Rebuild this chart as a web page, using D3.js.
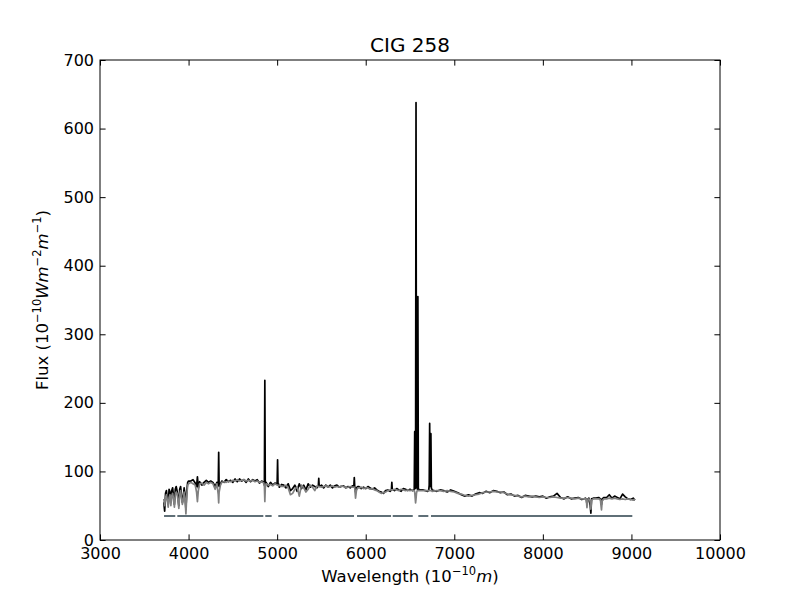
<!DOCTYPE html>
<html lang="en">
    <head>
        <meta charset="UTF-8" />
        <title>CIG 258</title>
        <style>
            html,
            body {
                margin: 0;
                background: white;
            }
            text {
                font-family: "DejaVu Sans", sans-serif;
                fill: black;
            }
        </style>
    </head>
    <body>
        <div id="chart"></div>
        <script src="https://d3js.org/d3.v7.min.js"></script>
        <script>
            // wavelength (Angstrom), observed flux (black), model flux (gray)
            const wave = [
                3720, 3730, 3740, 3750, 3760, 3770, 3780, 3790, 3800, 3810, 3820, 3830, 3840, 3850, 3860, 3870, 3880, 3890, 3900, 3910, 3920, 3930, 3940, 3950, 3960, 3970, 3980, 3990, 4000,
                4025, 4050, 4075, 4090, 4100, 4110, 4125, 4150, 4175, 4200, 4225, 4250,
                4275, 4300, 4320, 4335, 4340, 4345, 4360, 4375, 4400, 4425, 4450,
                4475, 4500, 4525, 4550, 4575, 4600, 4625, 4650, 4675, 4700, 4725, 4750, 4775, 4800, 4825, 4850,
                4856, 4861, 4866, 4875, 4900, 4925, 4950, 4975, 5000, 5005, 5010, 5015, 5025, 5050,
                5075, 5100, 5125, 5150, 5175, 5200, 5225, 5250, 5275, 5300, 5325, 5350, 5375, 5400, 5425, 5450,
                5465, 5470, 5475, 5500,
                5525, 5550, 5575, 5600, 5625, 5650, 5675, 5700, 5725, 5750, 5775, 5800, 5825, 5850,
                5866, 5871, 5876, 5885, 5895, 5910,
                5925, 5950, 5975, 6000, 6025, 6050, 6075, 6100, 6125, 6150, 6175, 6200, 6225, 6250, 6275,
                6290, 6295, 6300, 6325, 6350, 6375, 6400, 6425, 6450, 6475, 6500, 6525,
                6540, 6548, 6553, 6558, 6563, 6568, 6573, 6578, 6584, 6589, 6594, 6600,
                6650, 6700, 6712, 6717, 6722, 6727, 6731, 6736, 6741, 6750, 6800,
                6840, 6880, 6920, 6960, 7000, 7040, 7080, 7120, 7160, 7200, 7240, 7280, 7320, 7360, 7400, 7440, 7480, 7520, 7560, 7600, 7640, 7680, 7720, 7760, 7800, 7840, 7880, 7920, 7960, 8000, 8040, 8080, 8120, 8160, 8200, 8240, 8280, 8320, 8360, 8400, 8440, 8480,
                8490, 8498, 8506, 8520, 8535, 8542, 8550, 8570, 8600, 8630, 8650, 8655, 8662, 8670, 8690,
                8720, 8750, 8780, 8810, 8840, 8870, 8900, 8930, 8960, 8990, 9020, 9040
            ];
            const obsFlux = [
                55, 42, 68, 72, 60, 52, 74, 70, 55, 72, 76, 64, 52, 74, 78, 72, 62, 50, 74, 78, 66, 55, 62, 76, 66, 45, 72, 84, 86,
                86, 88, 83, 78, 92, 76, 85, 80, 84, 87, 84, 86,
                84, 78, 84, 80, 128, 78, 82, 86, 84, 88, 85,
                87, 84, 89, 85, 89, 86, 88, 84, 89, 85, 88, 86, 88, 83, 86, 84,
                80, 233, 80, 84, 78, 84, 80, 83, 82, 117, 80, 82, 77, 81,
                80, 76, 82, 72, 75, 80, 71, 82, 75, 80, 73, 82, 77, 80, 78, 76,
                79, 90, 78, 80,
                76, 80, 77, 80, 76, 79, 80, 77, 78, 79, 76, 78, 76, 79,
                78, 91, 78, 70, 76, 78,
                78, 75, 77, 75, 78, 76, 74, 76, 73, 71, 70, 68, 72, 73, 71,
                73, 84, 74, 72, 75, 73, 71, 75, 74, 72, 74, 72,
                73, 74, 158, 75, 80, 638, 82, 76, 74, 355, 76, 73,
                73, 71, 73, 80, 170, 78, 82, 155, 76, 73, 71,
                73, 72, 70, 73, 71, 69, 66, 64, 66, 64, 67, 69, 68, 71, 69, 72, 71, 69, 70, 66, 67, 64, 65, 62, 65, 64, 63, 64, 63, 64, 61, 63, 64, 68, 62, 60, 63, 60, 61, 62, 59, 61,
                60, 52, 59, 61, 50, 39, 60, 61, 61, 62, 60, 56, 52, 60, 62,
                62, 66, 61, 64, 62, 60, 67, 63, 60, 59, 61, 58
            ];
            const modelFlux = [
                60, 50, 62, 66, 58, 48, 62, 66, 50, 64, 68, 60, 48, 66, 70, 68, 58, 46, 66, 72, 62, 52, 58, 70, 60, 38, 66, 80, 82,
                84, 82, 80, 70, 56, 72, 82, 83, 80, 84, 82, 84,
                82, 74, 82, 66, 54, 70, 80, 84, 85, 84, 86,
                85, 87, 86, 88, 86, 87, 88, 86, 87, 86, 87, 85, 86, 84, 85, 83,
                78, 56, 76, 82, 80, 81, 79, 82, 80, 80, 80, 79, 80, 78,
                78, 80, 76, 66, 68, 74, 78, 64, 80, 76, 70, 74, 80, 77, 72, 79,
                78, 78, 78, 77,
                78, 79, 77, 78, 79, 77, 78, 77, 79, 78, 76, 77, 78, 77,
                77, 77, 76, 61, 72, 76,
                76, 77, 75, 76, 76, 74, 75, 73, 72, 70, 68, 69, 70, 72, 73,
                73, 73, 73, 74, 73, 72, 74, 73, 72, 73, 72, 73,
                72, 72, 70, 62, 54, 60, 68, 71, 72, 72, 72, 72,
                72, 72, 72, 72, 72, 72, 72, 72, 72, 71, 72,
                72, 71, 72, 71, 70, 68, 67, 65, 64, 65, 66, 67, 69, 70, 70, 71, 70, 70, 69, 67, 66, 65, 64, 63, 64, 63, 64, 63, 62, 63, 62, 62, 63, 62, 61, 61, 62, 61, 60, 61, 60, 60,
                60, 47, 58, 60, 56, 45, 58, 60, 60, 60, 59, 52, 44, 57, 60,
                60, 61, 60, 61, 60, 59, 60, 59, 60, 59, 58, 60
            ];

            // fitted-region mask drawn as a flat line
            const maskStart = [3723, 3873, 4866, 5013, 5902, 6305, 6594, 6737];
            const maskEnd = [3850, 4844, 4938, 5868, 6286, 6531, 6707, 9010];
            const maskLevel = 35;

            const xTicks = [3000, 4000, 5000, 6000, 7000, 8000, 9000, 10000];
            const yTicks = [0, 100, 200, 300, 400, 500, 600, 700];

            const width = 800;
            const height = 600;
            const margin = { left: 100, right: 80, top: 60, bottom: 60 };

            const svg = d3
                .select("#chart")
                .append("svg")
                .attr("width", width)
                .attr("height", height);

            const x = d3
                .scaleLinear()
                .domain([3000, 10000])
                .range([margin.left, width - margin.right]);
            const y = d3
                .scaleLinear()
                .domain([0, 700])
                .range([height - margin.bottom, margin.top]);

            const plot = svg.append("g");

            const specLine = d3
                .line()
                .x((d, i) => x(wave[i]))
                .y(d => y(d));

            plot.append("path")
                .datum(obsFlux)
                .attr("d", specLine)
                .attr("fill", "none")
                .attr("stroke", "black")
                .attr("stroke-width", 1.7)
                .attr("stroke-linejoin", "round");

            plot.append("path")
                .datum(modelFlux)
                .attr("d", specLine)
                .attr("fill", "none")
                .attr("stroke", "#808080")
                .attr("stroke-width", 1.7)
                .attr("stroke-linejoin", "round");

            plot.selectAll(".mask")
                .data(maskStart)
                .enter()
                .append("line")
                .attr("class", "mask")
                .attr("x1", d => x(d))
                .attr("x2", (d, i) => x(maskEnd[i]))
                .attr("y1", y(maskLevel))
                .attr("y2", y(maskLevel))
                .attr("stroke", "#5f6f77")
                .attr("stroke-width", 2);

            // axes, ticks inside on all four sides
            const tickLen = 5.6;
            const fmt = d3.format("d");
            const axBottom = svg
                .append("g")
                .attr("transform", `translate(0,${y(0)})`)
                .call(d3.axisBottom(x).tickValues(xTicks).tickSize(-tickLen).tickPadding(7).tickFormat(fmt));
            const axTop = svg
                .append("g")
                .attr("transform", `translate(0,${y(700)})`)
                .call(d3.axisTop(x).tickValues(xTicks).tickSize(-tickLen).tickFormat(""));
            const axLeft = svg
                .append("g")
                .attr("transform", `translate(${x(3000)},0)`)
                .call(d3.axisLeft(y).tickValues(yTicks).tickSize(-tickLen).tickPadding(6).tickFormat(fmt));
            const axRight = svg
                .append("g")
                .attr("transform", `translate(${x(10000)},0)`)
                .call(d3.axisRight(y).tickValues(yTicks).tickSize(-tickLen).tickFormat(""));

            [axBottom, axTop, axLeft, axRight].forEach(g => {
                g.select(".domain").remove();
                g.selectAll("line").attr("stroke", "black");
                g.selectAll("text")
                    .attr("font-family", "DejaVu Sans")
                    .attr("font-size", 16)
                    .attr("fill", "black");
            });
            axBottom.selectAll("text").attr("dy", "0.75em");

            svg.append("rect")
                .attr("x", x(3000))
                .attr("y", y(700))
                .attr("width", x(10000) - x(3000))
                .attr("height", y(0) - y(700))
                .attr("fill", "none")
                .attr("stroke", "black")
                .attr("stroke-width", 1);

            svg.append("text")
                .attr("x", (x(3000) + x(10000)) / 2)
                .attr("y", 52)
                .attr("text-anchor", "middle")
                .attr("font-size", 20)
                .text("CIG 258");

            // x label with mathtext-like parts
            const xl = svg
                .append("text")
                .attr("x", (x(3000) + x(10000)) / 2)
                .attr("y", 582)
                .attr("text-anchor", "middle")
                .attr("font-size", 16.5);
            xl.append("tspan").text("Wavelength (10");
            xl.append("tspan").attr("dy", -7).attr("font-size", 11.5).text("\u221210");
            xl.append("tspan").attr("dy", 7).attr("font-style", "italic").text("m");
            xl.append("tspan").text(")");

            const yl = svg
                .append("text")
                .attr("transform", `translate(48,${(y(0) + y(700)) / 2}) rotate(-90)`)
                .attr("text-anchor", "middle")
                .attr("font-size", 16.5);
            yl.append("tspan").text("Flux (10");
            yl.append("tspan").attr("dy", -7).attr("font-size", 11.5).text("\u221210");
            yl.append("tspan").attr("dy", 7).attr("font-style", "italic").text("Wm");
            yl.append("tspan").attr("dy", -7).attr("font-size", 11.5).text("\u22122");
            yl.append("tspan").attr("dy", 7).attr("font-style", "italic").text("m");
            yl.append("tspan").attr("dy", -7).attr("font-size", 11.5).text("\u22121");
            yl.append("tspan").attr("dy", 7).text(")");
        </script>
    </body>
</html>
